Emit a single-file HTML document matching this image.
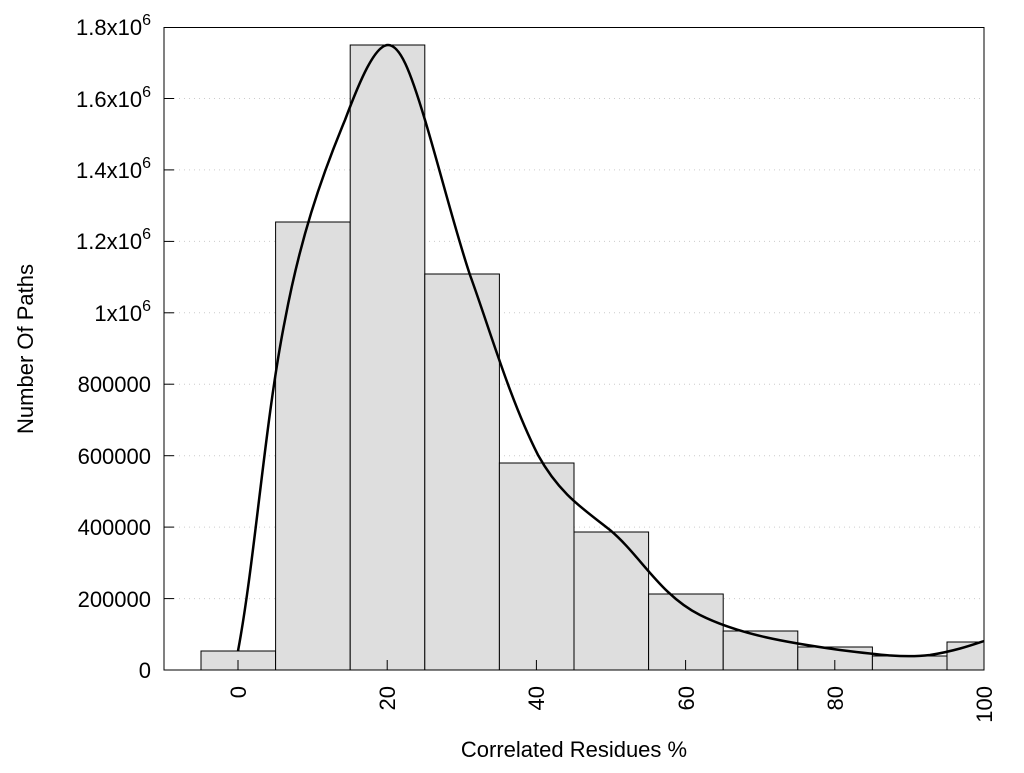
<!DOCTYPE html><html><head><style>body{margin:0;background:#fff}</style></head><body>
<svg width="1024" height="768" xmlns="http://www.w3.org/2000/svg" font-family="Liberation Sans, sans-serif" font-size="22">
<g stroke="#ccc" stroke-dasharray="1,4" stroke-width="1">
<line x1="164" x2="984" y1="598.6" y2="598.6"/><line x1="164" x2="984" y1="527.1" y2="527.1"/><line x1="164" x2="984" y1="455.7" y2="455.7"/><line x1="164" x2="984" y1="384.2" y2="384.2"/><line x1="164" x2="984" y1="312.8" y2="312.8"/><line x1="164" x2="984" y1="241.4" y2="241.4"/><line x1="164" x2="984" y1="169.9" y2="169.9"/><line x1="164" x2="984" y1="98.5" y2="98.5"/>
</g>
<g fill="#dedede" stroke="#000" stroke-width="1">
<rect x="201" y="651" width="74.6" height="19"/>
<rect x="275.6" y="222" width="74.6" height="448"/>
<rect x="350.2" y="45" width="74.6" height="625"/>
<rect x="424.8" y="274" width="74.6" height="396"/>
<rect x="499.4" y="463" width="74.6" height="207"/>
<rect x="574" y="532" width="74.6" height="138"/>
<rect x="648.6" y="594" width="74.6" height="76"/>
<rect x="723.2" y="631" width="74.6" height="39"/>
<rect x="797.8" y="647" width="74.6" height="23"/>
<rect x="872.4" y="656" width="74.6" height="14"/>
<rect x="947" y="642" width="37" height="28"/>
</g>
<path d="M238,651 C255,560 265,420 285,320 C300,240 320,180 345,120 C360,80 375,45 388,45 C400,45 410,70 425,120 C440,170 455,230 470,275 C490,330 510,400 538,455 C560,495 585,510 610,530 C640,555 660,595 700,615 C740,635 790,643 840,650 C880,655 905,658 930,655 C955,651 972,645 984,641" fill="none" stroke="#000" stroke-width="2.5"/>
<rect x="164" y="27.5" width="820" height="642.5" fill="none" stroke="#000" stroke-width="1"/>
<g stroke="#000">
<line x1="164" x2="174" y1="598.6" y2="598.6"/><line x1="164" x2="174" y1="527.1" y2="527.1"/><line x1="164" x2="174" y1="455.7" y2="455.7"/><line x1="164" x2="174" y1="384.2" y2="384.2"/><line x1="164" x2="174" y1="312.8" y2="312.8"/><line x1="164" x2="174" y1="241.4" y2="241.4"/><line x1="164" x2="174" y1="169.9" y2="169.9"/><line x1="164" x2="174" y1="98.5" y2="98.5"/>
<line x1="238" x2="238" y1="670" y2="660"/><line x1="387.2" x2="387.2" y1="670" y2="660"/><line x1="536.4" x2="536.4" y1="670" y2="660"/><line x1="685.6" x2="685.6" y1="670" y2="660"/><line x1="834.8" x2="834.8" y1="670" y2="660"/>
</g>
<g text-anchor="end">
<text x="151" y="678">0</text><text x="151" y="607">200000</text><text x="151" y="535">400000</text><text x="151" y="464">600000</text><text x="151" y="392">800000</text>
<text x="151" y="321">1x10<tspan font-size="16" dy="-10">6</tspan></text>
<text x="151" y="249">1.2x10<tspan font-size="16" dy="-10">6</tspan></text>
<text x="151" y="178">1.4x10<tspan font-size="16" dy="-10">6</tspan></text>
<text x="151" y="107">1.6x10<tspan font-size="16" dy="-10">6</tspan></text>
<text x="151" y="35">1.8x10<tspan font-size="16" dy="-10">6</tspan></text>
</g>
<g text-anchor="end">
<text transform="translate(246,686) rotate(-90)">0</text>
<text transform="translate(395,686) rotate(-90)">20</text>
<text transform="translate(544,686) rotate(-90)">40</text>
<text transform="translate(694,686) rotate(-90)">60</text>
<text transform="translate(843,686) rotate(-90)">80</text>
<text transform="translate(992,686) rotate(-90)">100</text>
</g>
<text x="574" y="757" text-anchor="middle">Correlated Residues %</text>
<text transform="translate(33,349) rotate(-90)" text-anchor="middle">Number Of Paths</text>
</svg>
</body></html>
